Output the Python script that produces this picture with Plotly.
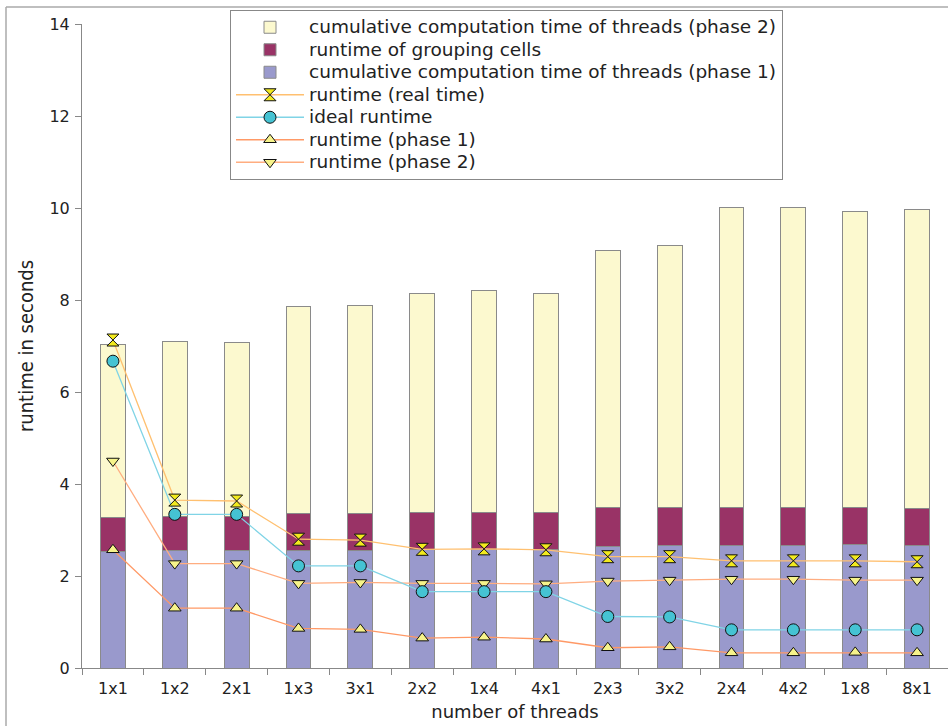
import plotly.graph_objects as go

categories = ["1x1", "1x2", "2x1", "1x3", "3x1", "2x2", "1x4", "4x1", "2x3", "3x2", "2x4", "4x2", "1x8", "8x1"]

# stacked bar components (seconds)
cum_phase1 = [2.54, 2.55, 2.55, 2.56, 2.55, 2.58, 2.58, 2.57, 2.65, 2.66, 2.66, 2.66, 2.68, 2.66]
grouping = [0.73, 0.75, 0.74, 0.80, 0.81, 0.80, 0.81, 0.80, 0.83, 0.83, 0.83, 0.83, 0.82, 0.81]
cum_phase2 = [3.77, 3.79, 3.78, 4.49, 4.51, 4.77, 4.81, 4.78, 5.59, 5.69, 6.52, 6.52, 6.43, 6.49]

# line series (seconds)
runtime_real = [7.13, 3.65, 3.63, 2.80, 2.78, 2.58, 2.59, 2.57, 2.42, 2.42, 2.33, 2.33, 2.33, 2.31]
ideal_runtime = [6.67, 3.34, 3.34, 2.22, 2.22, 1.66, 1.66, 1.66, 1.12, 1.11, 0.83, 0.83, 0.83, 0.83]
runtime_p1 = [2.57, 1.30, 1.30, 0.86, 0.84, 0.65, 0.67, 0.63, 0.44, 0.46, 0.33, 0.33, 0.34, 0.33]
runtime_p2 = [4.50, 2.27, 2.27, 1.84, 1.86, 1.84, 1.84, 1.83, 1.89, 1.91, 1.93, 1.93, 1.91, 1.91]

FONT = "DejaVu Sans, Verdana, sans-serif"


def lg(name):
    # legend label rendered slightly larger than the legend's row spacing font
    return '<span style="font-size:18.5px">' + name + '</span>'


fig = go.Figure()

bar_line = dict(color="#8a8a8a", width=1)
fig.add_trace(go.Bar(x=categories, y=cum_phase1, name=lg("cumulative computation time of threads (phase 1)"),
                     marker=dict(color="#9999cc", line=bar_line), width=0.4, legendrank=3))
fig.add_trace(go.Bar(x=categories, y=grouping, name=lg("runtime of grouping cells"),
                     marker=dict(color="#993366", line=bar_line), width=0.4, legendrank=2))
fig.add_trace(go.Bar(x=categories, y=cum_phase2, name=lg("cumulative computation time of threads (phase 2)"),
                     marker=dict(color="#fcf9cf", line=bar_line), width=0.4, legendrank=1))

mk_line = dict(color="#111111", width=1)
fig.add_trace(go.Scatter(x=categories, y=runtime_p1, name=lg("runtime (phase 1)"), mode="lines+markers",
                         line=dict(color="#ff9966", width=1.3),
                         marker=dict(symbol="triangle-up", size=11, color="#f6f38a", line=mk_line),
                         legendrank=6))
fig.add_trace(go.Scatter(x=categories, y=runtime_p2, name=lg("runtime (phase 2)"), mode="lines+markers",
                         line=dict(color="#ffad80", width=1.3),
                         marker=dict(symbol="triangle-down", size=11, color="#f6f38a", line=mk_line),
                         legendrank=7))
fig.add_trace(go.Scatter(x=categories, y=ideal_runtime, name=lg("ideal runtime"), mode="lines+markers",
                         line=dict(color="#80d4e6", width=1.3),
                         marker=dict(symbol="circle", size=12, color="#45c3d3", line=mk_line),
                         legendrank=5))
fig.add_trace(go.Scatter(x=categories, y=runtime_real, name=lg("runtime (real time)"), mode="lines+markers",
                         line=dict(color="#ffc070", width=1.3),
                         marker=dict(symbol="hourglass", size=12, color="#f2ea1e", line=mk_line),
                         legendrank=4))

L, R, T, B = 82, 0, 24, 58
W, H = 948, 726
pw, ph = W - L - R, H - T - B

def px_to_paper_x(px):
    return (px - L) / pw

def px_to_paper_y(py):
    return (H - B - py) / ph

fig.update_layout(
    width=W, height=H,
    margin=dict(l=L, r=R, t=T, b=B),
    paper_bgcolor="white", plot_bgcolor="white",
    barmode="stack", bargap=0.6,
    font=dict(family=FONT, size=16, color="#222222"),
    showlegend=True,
    legend=dict(
        x=px_to_paper_x(230), y=px_to_paper_y(10), xanchor="left", yanchor="top",
        bgcolor="white", bordercolor="#888888", borderwidth=1,
        font=dict(family=FONT, size=15, color="#222222"),
        traceorder="normal", itemwidth=68, tracegroupgap=0,
    ),
    xaxis=dict(
        type="category", range=[-0.5, 13.5],
        showline=True, linecolor="#888888", linewidth=1,
        ticks="outside", ticklen=6, tickcolor="#888888", tickson="boundaries",
        ticklabelstandoff=6,
        showgrid=False, zeroline=False,
        tickfont=dict(family=FONT, size=16, color="#222222"),
        title=dict(text="number of threads", font=dict(family=FONT, size=18, color="#222222"), standoff=8),
    ),
    yaxis=dict(
        range=[0, 14], dtick=2,
        showline=True, linecolor="#888888", linewidth=1,
        ticks="outside", ticklen=6, tickcolor="#888888",
        ticklabelstandoff=2,
        showgrid=False, zeroline=False,
        tickfont=dict(family=FONT, size=16, color="#222222"),
        title=dict(text="runtime in seconds", font=dict(family="DejaVu Sans Condensed, DejaVu Sans, sans-serif", size=20, color="#222222"), standoff=10),
    ),
    shapes=[
        dict(type="line", xref="paper", yref="paper",
             x0=px_to_paper_x(6), x1=1.0, y0=px_to_paper_y(7), y1=px_to_paper_y(7),
             line=dict(color="#aaaaaa", width=1.5)),
        dict(type="line", xref="paper", yref="paper",
             x0=px_to_paper_x(6), x1=px_to_paper_x(6), y0=px_to_paper_y(7), y1=px_to_paper_y(726),
             line=dict(color="#aaaaaa", width=1.5)),
    ],
)

fig.write_html("out.html", config={"displayModeBar": False},
               post_script="document.body.style.margin='0';document.body.style.overflow='hidden';")
